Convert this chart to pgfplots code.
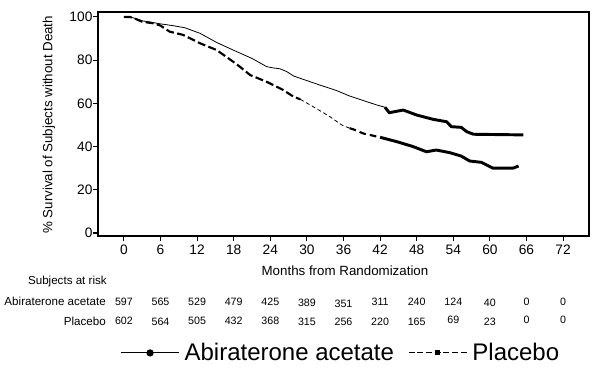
\documentclass[border=0pt]{standalone}
\usepackage{fontspec}
\setmainfont{Liberation Sans}
\usepackage{pgfplots}
\pgfplotsset{compat=1.18}
\begin{document}
\begin{tikzpicture}
\path[use as bounding box] (0,0) rectangle (447pt,-277.5pt);
\begin{axis}[
  at={(73.5pt,-177pt)}, anchor=south west,
  width=368.25pt, height=168pt, scale only axis,
  xmin=-4.25, xmax=76.25, ymin=-1.4, ymax=102.3,
  xtick={0,6,...,72}, ytick={0,20,...,100},
  tick align=outside, xtick pos=bottom, ytick pos=left,
  major tick length=3.5pt,
  axis line style={line width=1.1pt},
  tick style={line width=0.8pt, black},
  /pgf/number format/assume math mode=true,
  ticklabel style={font=\fontsize{10.3}{12}\selectfont},
  yticklabel style={inner sep=0.5pt},
  xlabel={Months from Randomization},
  xlabel style={at={(axis description cs:0.503,-0.155)}, anchor=center, font=\fontsize{10}{12}\selectfont},
  ylabel={\% Survival of Subjects without Death},
  ylabel style={at={(axis description cs:-0.0998,0.496)}, anchor=center, font=\fontsize{10}{12}\selectfont},
  clip=false,
  legend columns=2,
  legend style={at={(0.497,-0.522)}, anchor=center, draw=none, fill=none,
    font=\fontsize{18}{20}\selectfont,
    /tikz/every even column/.append style={column sep=7pt},
    nodes={inner sep=3.5pt}},
  legend image code/.code={\draw[mark repeat=2,mark phase=2,#1] plot coordinates {(0pt,0pt) (22pt,0pt) (44pt,0pt)};},
]
\addlegendimage{black, line width=0.8pt, mark=*, mark size=2.3pt}
\addlegendentry{Abiraterone acetate}
\addlegendimage{black, line width=0.8pt, dash pattern=on 4.5pt off 2pt, mark=square*, mark size=1.5pt, mark options={solid}}
\addlegendentry{Placebo}

% Abiraterone acetate: thin part
\addplot[forget plot, black, line width=0.6pt] coordinates {
(0,100) (1,100) (2,99.2) (3,98.2) (4,97.8) (6,96.8) (8,96) (10,95) (12.5,92.4)
(15.2,88.2) (17.9,84.7) (21,80.8) (23.4,77) (24.5,76.4) (25.6,76) (26.7,74.7)
(27.8,72.7) (28.9,71.6) (32.1,68.5) (34.9,65.9) (37,63.4) (41.4,59.3) (42.8,58.2)};
% Abiraterone acetate: thick part
\addplot[forget plot, black, line width=2.2pt] coordinates {
(42.8,58.2) (43.5,55.7) (45.8,56.9) (48,54.6) (50.7,52.6) (52.9,51.5) (53.7,49.2)
(55.3,48.9) (56.2,46.9) (57.3,45.7) (65.5,45.4)};

% Placebo: thick dashed
\addplot[forget plot, black, line width=1.6pt, dash pattern=on 6pt off 2.5pt] coordinates {
(0,100) (1,100) (2,99) (3,97.8) (5,97) (6,96) (7.5,93.2) (9.7,91.7) (12.5,87.8)
(15.2,84.7) (17.9,79.3) (19,77) (20.7,73.1) (23.4,70) (26.1,66.2) (27.8,63.1) (28.9,61.9)};
% Placebo: thin dashed
\addplot[forget plot, black, line width=0.6pt, dash pattern=on 3pt off 2pt] coordinates {
(28.9,61.9) (31,58.5) (33.8,53.8) (35.7,50) (37,48.5)};
% Placebo: thick dashed
\addplot[forget plot, black, line width=1.6pt, dash pattern=on 5pt off 3pt] coordinates {
(37,48.5) (37.6,48) (39.2,46.1) (42,44.3)};
% Placebo: thick solid
\addplot[forget plot, black, line width=2.2pt] coordinates {
(42,44.3) (44.7,42.3) (47.4,40) (49.6,37.6) (51.2,38.4) (53.4,37.2) (55.3,35.6)
(56.7,33.3) (58.6,32.7) (60.5,30) (63.8,30) (64.7,31)};

% Subjects at risk
\addplot[forget plot, draw=none, mark=none, nodes near coords, point meta=explicit symbolic,
  nodes near coords style={anchor=center, font=\fontsize{8}{9}\selectfont}] coordinates {
(0,-31.8)[597] (6,-31.8)[565] (12,-31.8)[529] (18,-31.8)[479] (24,-31.8)[425]
(30,-32.3)[389] (36,-32.6)[351] (42,-31.8)[311] (48,-31.8)[240] (54,-31.8)[124]
(60,-32.2)[40] (66,-31.8)[0] (72,-31.8)[0]};
\addplot[forget plot, draw=none, mark=none, nodes near coords, point meta=explicit symbolic,
  nodes near coords style={anchor=center, font=\fontsize{8}{9}\selectfont}] coordinates {
(0,-40.5)[602] (6,-41.0)[564] (12,-40.5)[505] (18,-40.5)[432] (24,-40.5)[368]
(30,-41.3)[315] (36,-41.3)[256] (42,-41.0)[220] (48,-41.3)[165] (54,-40.0)[69]
(60,-41.3)[23] (66,-40.2)[0] (72,-40.2)[0]};

\node[anchor=east, inner sep=0pt, font=\fontsize{8.7}{10}\selectfont] at (axis description cs:0.0183,-0.205) {Subjects at risk};
\node[anchor=east, inner sep=0pt, font=\fontsize{8.7}{10}\selectfont] at (axis description cs:0.0163,-0.293) {Abiraterone acetate};
\node[anchor=east, inner sep=0pt, font=\fontsize{8.7}{10}\selectfont] at (axis description cs:0.0163,-0.379) {Placebo};
\end{axis}
\end{tikzpicture}
\end{document}
